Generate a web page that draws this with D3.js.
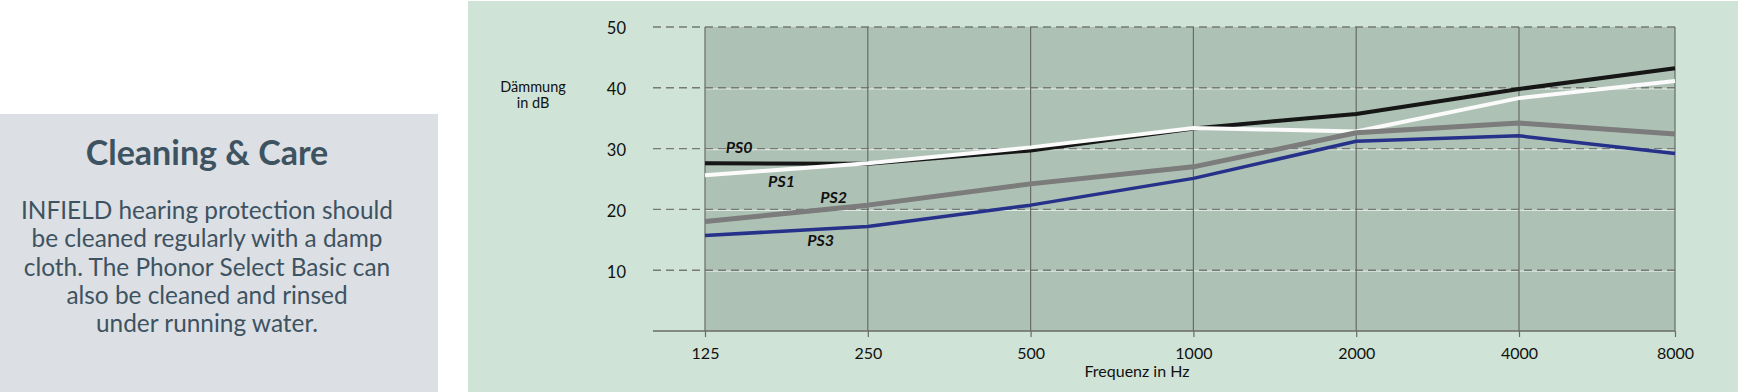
<!DOCTYPE html>
<html>
<head>
    <meta charset="utf-8">
    <title>Dämmung</title>
    <script src="https://d3js.org/d3.v7.min.js"></script>
    <style>
        body { margin: 0; background: #fff; }
        svg { display: block; font-family: Lato, "Open Sans", sans-serif; }
    </style>
</head>
<body>
    <svg id="chart" width="1738" height="392"></svg>

    <script>

// frequency bands (x axis) and damping in dB per model
var freqs = ['125', '250', '500', '1000', '2000', '4000', '8000']
var yTicks = [10, 20, 30, 40, 50]

var ps0 = [27.6, 27.5, 29.7, 33.3, 35.7, 39.8, 43.2]
var ps1 = [25.6, 27.6, 30.2, 33.4, 32.8, 38.3, 41.1]
var ps2 = [18.0, 20.7, 24.2, 27.0, 32.6, 34.2, 32.4]
var ps3 = [15.7, 17.2, 20.7, 25.1, 31.2, 32.1, 29.2]

var seriesNames = ['PS0', 'PS1', 'PS2', 'PS3']
var seriesColors = ['#141414', '#fbfbfb', '#7b7b7b', '#26308a']
var seriesWidths = [4, 4, 5, 3.5]

// label anchors in data units: [band index, dB]
var labelIdx = [0.21, 0.47, 0.79, 0.71]
var labelDb = [29.3, 23.7, 21.1, 14.0]

var infoTitle = 'Cleaning & Care'
var infoLines = [
  'INFIELD hearing protection should',
  'be cleaned regularly with a damp',
  'cloth. The Phonor Select Basic can',
  'also be cleaned and rinsed',
  'under running water.'
]

var svg = d3.select('#chart')

// left info box
svg.append('rect')
  .attr('x', 0).attr('y', 114).attr('width', 438).attr('height', 278)
  .attr('fill', '#dcdfe3')

svg.append('text')
  .attr('x', 207).attr('y', 165)
  .attr('text-anchor', 'middle')
  .attr('font-size', 34).attr('font-weight', 700)
  .attr('fill', '#3e5361')
  .text(infoTitle)

svg.append('g').selectAll('text')
  .data(infoLines)
  .enter().append('text')
    .attr('x', 207)
    .attr('y', function (d, i) { return 219 + i * 28.3 })
    .attr('text-anchor', 'middle')
    .attr('font-size', 24.4)
    .attr('fill', '#3e5361')
    .text(function (d) { return d })

// chart panel
svg.append('rect')
  .attr('x', 468).attr('y', 1).attr('width', 1270).attr('height', 391)
  .attr('fill', '#cfe3d6')

var x = d3.scaleLinear().domain([0, 5, 6]).range([705, 1519, 1675])
var y = d3.scaleLinear().domain([0, 50]).range([331, 27])

svg.append('rect')
  .attr('x', x(0)).attr('y', y(50))
  .attr('width', x(6) - x(0)).attr('height', y(0) - y(50))
  .attr('fill', '#adc1b5')

// horizontal grid: light line with dashes on top
var grid = svg.append('g')
grid.selectAll('line.light')
  .data(yTicks.filter(function (d) { return d < 50 }))
  .enter().append('line')
    .attr('class', 'light')
    .attr('x1', x(0)).attr('x2', x(6))
    .attr('y1', function (d) { return y(d) + 1 })
    .attr('y2', function (d) { return y(d) + 1 })
    .attr('stroke', '#dde9e1').attr('stroke-width', 1.2)
grid.selectAll('line.dash')
  .data(yTicks)
  .enter().append('line')
    .attr('class', 'dash')
    .attr('x1', 653).attr('x2', x(6))
    .attr('y1', function (d) { return y(d) })
    .attr('y2', function (d) { return y(d) })
    .attr('stroke', '#767976').attr('stroke-width', 1.4)
    .attr('stroke-dasharray', '8,5')

// vertical grid
grid.selectAll('line.v')
  .data(freqs)
  .enter().append('line')
    .attr('class', 'v')
    .attr('x1', function (d, i) { return x(i) })
    .attr('x2', function (d, i) { return x(i) })
    .attr('y1', y(50)).attr('y2', y(0))
    .attr('stroke', '#686b69').attr('stroke-width', 1.2)

// x axis
var xAxis = d3.axisBottom(x)
  .tickValues(d3.range(freqs.length))
  .tickFormat(function (i) { return freqs[i] })
  .tickSize(6).tickPadding(11)

var gx = svg.append('g')
  .attr('transform', 'translate(0,' + y(0) + ')')
  .call(xAxis)
gx.select('.domain').remove()
gx.selectAll('.tick line').attr('stroke', '#686b69').attr('stroke-width', 1.2)
gx.selectAll('.tick text')
  .attr('font-family', 'Lato, sans-serif')
  .attr('font-size', 16).attr('fill', '#111')

svg.append('line')
  .attr('x1', 653).attr('x2', x(6))
  .attr('y1', y(0)).attr('y2', y(0))
  .attr('stroke', '#686b69').attr('stroke-width', 1.4)

// y axis labels
var yAxis = d3.axisLeft(y).tickValues(yTicks).tickSize(0).tickPadding(0)
var gy = svg.append('g')
  .attr('transform', 'translate(626,0)')
  .call(yAxis)
gy.select('.domain').remove()
gy.selectAll('.tick text')
  .attr('font-family', 'Lato, sans-serif')
  .attr('font-size', 16.5).attr('fill', '#111')
  .attr('dy', '0.42em')

// axis titles
svg.append('text')
  .attr('x', 533).attr('y', 92)
  .attr('text-anchor', 'middle').attr('font-size', 14.5).attr('fill', '#111')
  .text('Dämmung')
svg.append('text')
  .attr('x', 533).attr('y', 108)
  .attr('text-anchor', 'middle').attr('font-size', 14.5).attr('fill', '#111')
  .text('in dB')
svg.append('text')
  .attr('x', 1137).attr('y', 377)
  .attr('text-anchor', 'middle').attr('font-size', 16).attr('fill', '#111')
  .text('Frequenz in Hz')

// soft edges on the curves
svg.append('defs').append('filter')
  .attr('id', 'soft')
  .append('feGaussianBlur').attr('stdDeviation', 0.6)

var line = d3.line()
  .x(function (d, i) { return x(i) })
  .y(function (d) { return y(d) })

var allSeries = [ps0, ps1, ps2, ps3]

svg.append('g').selectAll('path')
  .data(allSeries)
  .enter().append('path')
    .attr('d', line)
    .attr('fill', 'none')
    .attr('stroke', function (d, i) { return seriesColors[i] })
    .attr('stroke-width', function (d, i) { return seriesWidths[i] })
    .attr('stroke-linejoin', 'round')
    .attr('filter', 'url(#soft)')

svg.append('g').selectAll('text')
  .data(seriesNames)
  .enter().append('text')
    .attr('x', function (d, i) { return x(labelIdx[i]) })
    .attr('y', function (d, i) { return y(labelDb[i]) })
    .attr('text-anchor', 'middle')
    .attr('font-size', 16).attr('font-weight', 700).attr('font-style', 'italic')
    .attr('fill', '#111')
    .text(function (d) { return d })

    </script>
</body>
</html>
